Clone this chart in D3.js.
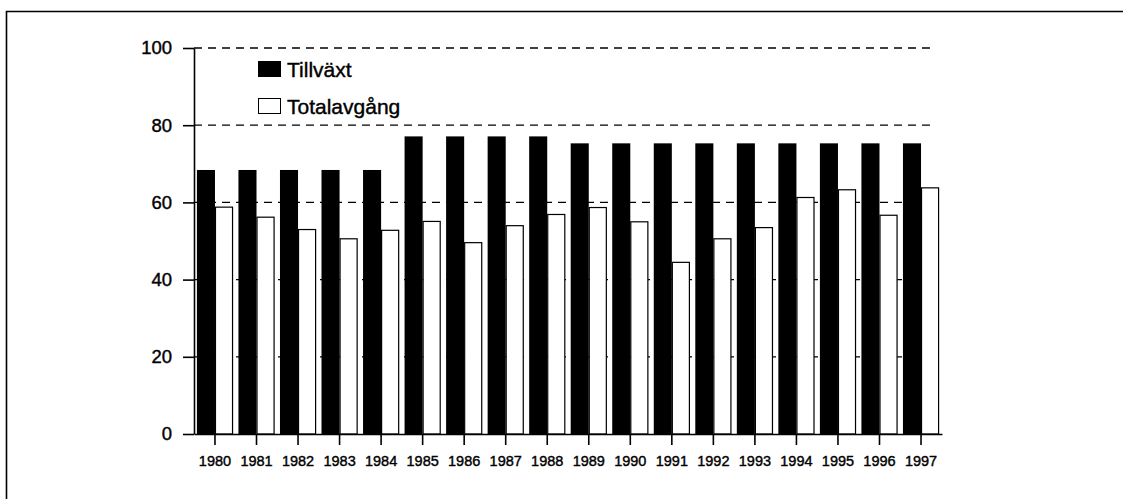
<!DOCTYPE html>
<html>
<head>
<meta charset="utf-8">
<script src="https://cdn.jsdelivr.net/npm/d3@7"></script>
<style>
  html, body { margin: 0; padding: 0; background: #fff; }
  text { font-family: "Liberation Sans", Arial, sans-serif; fill: #000; stroke: #000; stroke-width: 0.4px; }
</style>
</head>
<body>
<div id="chart"></div>
<script>
const years = ['1980', '1981', '1982', '1983', '1984', '1985', '1986', '1987', '1988',
    '1989', '1990', '1991', '1992', '1993', '1994', '1995', '1996', '1997'];
const tillvaxt = [68.4, 68.4, 68.4, 68.4, 68.4, 77.1, 77.1, 77.1, 77.1,
    75.3, 75.3, 75.3, 75.3, 75.3, 75.3, 75.3, 75.3, 75.3];
const totalavgang = [58.9, 56.3, 53.1, 50.7, 52.9, 55.2, 49.7, 54.1, 57.0,
    58.8, 55.1, 44.6, 50.7, 53.6, 61.4, 63.4, 56.8, 63.9];
const yTicks = [0, 20, 40, 60, 80, 100];
const seriesNames = ['Tillväxt', 'Totalavgång'];

const W = 1123, H = 499,
    margin = { top: 48, right: 181, bottom: 65, left: 194 },
    width = W - margin.left - margin.right,
    height = H - margin.top - margin.bottom;

const root = d3.select('#chart')
    .append('svg')
        .attr('width', W)
        .attr('height', H);

// frame (top and left edges of the scanned box)
root.append('path')
    .attr('d', `M6.5,${H} L6.5,11.5 L${W},11.5`)
    .attr('fill', 'none')
    .attr('stroke', '#000')
    .attr('stroke-width', 1.6);

const svg = root.append('g')
    .attr('transform', `translate(${margin.left}, ${margin.top})`);

const x0 = d3.scaleBand()
    .domain(years)
    .range([0, width])
    .paddingInner(0.13)
    .paddingOuter(0.07);

const x1 = d3.scaleBand()
    .domain([0, 1])
    .range([0, x0.bandwidth()]);

const y = d3.scaleLinear()
    .domain([0, 100])
    .range([height, 0]);

// dashed grid
svg.append('g')
    .selectAll('line')
    .data(yTicks.filter(d => d > 0))
    .enter()
    .append('line')
        .attr('x1', 0)
        .attr('x2', width - 7)
        .attr('y1', d => y(d))
        .attr('y2', d => y(d))
        .attr('stroke', '#000')
        .attr('stroke-width', 1.3)
        .attr('stroke-dasharray', '8,6');

// bars
const groups = svg.append('g')
    .selectAll('g')
    .data(years)
    .enter()
    .append('g')
        .attr('transform', d => `translate(${x0(d)}, 0)`);

groups.append('rect')
    .attr('x', x1(0))
    .attr('width', x1.bandwidth())
    .attr('y', (d, i) => y(tillvaxt[i]))
    .attr('height', (d, i) => height - y(tillvaxt[i]))
    .attr('fill', '#000');

groups.append('rect')
    .attr('x', x1(1) + 0.5)
    .attr('width', x1.bandwidth() - 1)
    .attr('y', (d, i) => y(totalavgang[i]) + 0.5)
    .attr('height', (d, i) => height - y(totalavgang[i]) - 0.5)
    .attr('fill', '#fff')
    .attr('stroke', '#000')
    .attr('stroke-width', 1.2);

// y axis
svg.append('g')
    .call(d3.axisLeft(y).tickValues(yTicks).tickSize(11).tickPadding(11).tickSizeOuter(0))
    .call(g => g.selectAll('path, line').attr('stroke', '#000').attr('stroke-width', 1.6))
    .call(g => g.selectAll('text').attr('font-size', '18.5px'));

// x axis
svg.append('g')
    .attr('transform', `translate(0, ${height})`)
    .call(d3.axisBottom(x0).tickSize(11).tickPadding(11).tickSizeOuter(0))
    .call(g => g.selectAll('path, line').attr('stroke', '#000').attr('stroke-width', 1.6))
    .call(g => g.selectAll('text').attr('font-size', '14.5px'));

// legend
const legend = svg.append('g')
    .attr('transform', 'translate(64, 13)');

const legendItems = legend.selectAll('g')
    .data(seriesNames)
    .enter()
    .append('g')
        .attr('transform', (d, i) => `translate(0, ${i * 37})`);

legendItems.append('rect')
    .attr('x', 0.5)
    .attr('y', 0.5)
    .attr('width', 22)
    .attr('height', 15)
    .attr('fill', (d, i) => i === 0 ? '#000' : '#fff')
    .attr('stroke', '#000')
    .attr('stroke-width', 1);

legendItems.append('text')
    .attr('x', 29)
    .attr('y', 16)
    .attr('font-size', '21px')
    .text(d => d);
</script>
</body>
</html>
